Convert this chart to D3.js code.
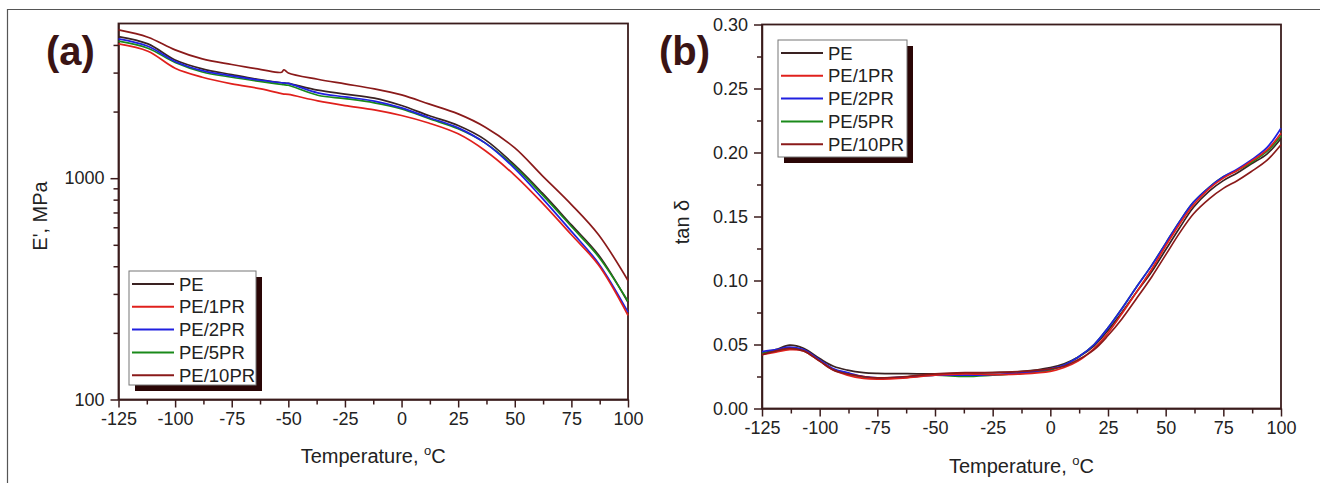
<!DOCTYPE html>
<html>
<head>
<meta charset="utf-8">
<script src="https://cdn.jsdelivr.net/npm/d3@7"></script>
<style>
  body { margin: 0; background: #fff; }
  svg { display: block; font-family: "Liberation Sans", Arial, sans-serif; }
</style>
</head>
<body>
<svg id="chart" width="1320" height="483"></svg>
<script>
const SERIES = ["PE", "PE/1PR", "PE/2PR", "PE/5PR", "PE/10PR"];
const COLORS = ["#3a2222", "#e0201c", "#2020e0", "#1a8a1a", "#8a1a1a"];

// (a) storage modulus, MPa
const tempsA = [-125, -112, -100, -88, -75, -62, -53, -52, -50, -37, -25, -12, 0, 12, 25, 37, 50, 62, 75, 87, 100];
const modPE    = [4365, 4045, 3420, 3118, 2939, 2780, 2700, 2695, 2680, 2500, 2400, 2300, 2129, 1919, 1729, 1490, 1145, 860, 615, 450, 275];
const mod1PR   = [4045, 3747, 3140, 2859, 2668, 2533, 2410, 2400, 2390, 2235, 2129, 2035, 1919, 1775, 1586, 1330, 1030, 775, 555, 405, 240];
const mod2PR   = [4262, 3948, 3370, 3060, 2899, 2770, 2700, 2695, 2680, 2430, 2330, 2230, 2078, 1880, 1688, 1440, 1105, 815, 575, 412, 248];
const mod5PR   = [4159, 3866, 3330, 3020, 2859, 2730, 2650, 2645, 2630, 2370, 2290, 2190, 2056, 1860, 1671, 1440, 1125, 845, 605, 442, 278];
const mod10PR  = [4677, 4335, 3800, 3459, 3263, 3097, 3010, 3090, 2990, 2800, 2668, 2533, 2378, 2166, 1953, 1700, 1370, 1030, 760, 555, 345];

// (b) tan delta
const tempsB = [-125, -119, -113, -107, -100, -94, -88, -81, -75, -62, -50, -37, -25, -12, 0, 6, 12, 19, 25, 31, 37, 44, 50, 56, 62, 69, 75, 81, 87, 94, 100];
const tanPE   = [0.043, 0.046, 0.0495, 0.047, 0.039, 0.033, 0.030, 0.028, 0.0274, 0.0272, 0.027, 0.0275, 0.028, 0.029, 0.032, 0.035, 0.040, 0.049, 0.061, 0.075, 0.090, 0.107, 0.124, 0.141, 0.157, 0.170, 0.178, 0.184, 0.191, 0.199, 0.211];
const tan1PR  = [0.042, 0.044, 0.046, 0.045, 0.037, 0.030, 0.026, 0.0235, 0.023, 0.024, 0.026, 0.027, 0.0265, 0.027, 0.029, 0.032, 0.037, 0.047, 0.059, 0.074, 0.090, 0.109, 0.127, 0.144, 0.159, 0.172, 0.180, 0.186, 0.193, 0.202, 0.215];
const tan2PR  = [0.0445, 0.046, 0.048, 0.046, 0.038, 0.031, 0.028, 0.025, 0.024, 0.0245, 0.026, 0.026, 0.0265, 0.028, 0.031, 0.034, 0.040, 0.050, 0.063, 0.078, 0.094, 0.112, 0.129, 0.146, 0.161, 0.173, 0.181, 0.187, 0.194, 0.204, 0.219];
const tan5PR  = [0.043, 0.045, 0.047, 0.0455, 0.0375, 0.0305, 0.027, 0.0245, 0.0236, 0.0245, 0.026, 0.025, 0.026, 0.0275, 0.030, 0.034, 0.040, 0.050, 0.063, 0.078, 0.094, 0.112, 0.129, 0.146, 0.161, 0.173, 0.181, 0.186, 0.192, 0.201, 0.213];
const tan10PR = [0.042, 0.045, 0.047, 0.045, 0.037, 0.030, 0.027, 0.025, 0.024, 0.025, 0.027, 0.028, 0.028, 0.029, 0.031, 0.033, 0.038, 0.046, 0.057, 0.070, 0.085, 0.103, 0.120, 0.137, 0.152, 0.164, 0.172, 0.178, 0.185, 0.194, 0.206];

const xTicks = [-125, -100, -75, -50, -25, 0, 25, 50, 75, 100];
const xMinor = [-112.5, -87.5, -62.5, -37.5, -12.5, 12.5, 37.5, 62.5, 87.5];
const yTicksA = [100, 1000];
const yMinorA = [200, 300, 400, 500, 600, 700, 800, 900, 2000, 3000, 4000];
const yTicksB = [0, 0.05, 0.10, 0.15, 0.20, 0.25, 0.30];
const yMinorB = [0.025, 0.075, 0.125, 0.175, 0.225, 0.275];

const AXIS = "#3b1c1c";
const svg = d3.select("#chart");

// outer frame
svg.append("path").attr("d", "M7.5,483 V9.5 H1320")
  .attr("fill", "none").attr("stroke", "#555").attr("stroke-width", 1.2);

function drawPanel(o) {
  const g = svg.append("g");
  const x = d3.scaleLinear().domain([-125, 100]).range([o.left, o.right]);
  const y = o.y;

  // minor ticks
  g.append("g").attr("transform", `translate(0,${o.bottom})`)
    .call(d3.axisBottom(x).tickValues(xMinor).tickSize(5).tickFormat(""))
    .call(a => a.select(".domain").remove());
  g.append("g").attr("transform", `translate(${o.left},0)`)
    .call(d3.axisLeft(y).tickValues(o.yMinor).tickSize(5).tickFormat(""))
    .call(a => a.select(".domain").remove());

  // major ticks
  g.append("g").attr("transform", `translate(0,${o.bottom})`)
    .call(d3.axisBottom(x).tickValues(xTicks).tickSize(8).tickSizeOuter(0).tickPadding(5).tickFormat(d => String(d)))
    .call(a => a.selectAll("text").style("font-size", "18px").attr("fill", "#222"));
  g.append("g").attr("transform", `translate(${o.left},0)`)
    .call(d3.axisLeft(y).tickValues(o.yTicks).tickSize(8).tickSizeOuter(0).tickPadding(6).tickFormat(o.fmt))
    .call(a => a.selectAll("text").style("font-size", "18px").attr("fill", "#222"));
  g.selectAll(".tick line, .domain").attr("stroke", AXIS).attr("stroke-width", 1.5);

  // frame
  g.append("rect")
    .attr("x", o.left).attr("y", o.top)
    .attr("width", o.right - o.left).attr("height", o.bottom - o.top)
    .attr("fill", "none").attr("stroke", AXIS).attr("stroke-width", 1.8);

  // curves
  const line = d3.line()
    .x(d => x(d[0])).y(d => y(d[1]))
    .curve(d3.curveCatmullRom.alpha(0.5));
  const order = [0, 3, 2, 1, 4];
  order.forEach(i => {
    const pts = o.temps.map((t, k) => [t, o.values[i][k]]);
    g.append("path").datum(pts)
      .attr("d", line)
      .attr("fill", "none")
      .attr("stroke", COLORS[i])
      .attr("stroke-width", 1.7);
  });

  // legend
  const L = o.legend;
  g.append("rect").attr("x", L.x + 6).attr("y", L.y + 6).attr("width", L.w).attr("height", L.h)
    .attr("fill", "#2a0606");
  g.append("rect").attr("x", L.x).attr("y", L.y).attr("width", L.w).attr("height", L.h)
    .attr("fill", "#fff").attr("stroke", "#777").attr("stroke-width", 1);
  SERIES.forEach((s, i) => {
    const yy = L.y + 13 + i * 22.8;
    g.append("line").attr("x1", L.x + 3).attr("x2", L.x + 45)
      .attr("y1", yy).attr("y2", yy)
      .attr("stroke", COLORS[i]).attr("stroke-width", 2);
    g.append("text").attr("x", L.x + 50).attr("y", yy + 6.5)
      .attr("fill", "#222").style("font-size", "18.5px").text(s);
  });

  // panel letter
  g.append("text").attr("x", o.letterX).attr("y", 65)
    .attr("fill", "#3a1414").style("font-size", "40px").style("font-weight", "bold")
    .text(o.letter);

  // axis titles
  const xt = g.append("text")
    .attr("x", (o.left + o.right) / 2).attr("y", o.xTitleY)
    .attr("text-anchor", "middle").attr("fill", "#222").style("font-size", "20px");
  xt.append("tspan").text("Temperature, ");
  xt.append("tspan").attr("dy", -8).style("font-size", "13px").text("o");
  xt.append("tspan").attr("dy", 8).text("C");

  g.append("text")
    .attr("transform", `translate(${o.yTitleX},${o.yTitleY}) rotate(-90)`)
    .attr("text-anchor", "middle").attr("fill", "#222").style("font-size", "20px")
    .text(o.yTitle);
}

drawPanel({
  left: 118.5, right: 628, top: 23.5, bottom: 399.5,
  y: d3.scaleLog().domain([100, 5000]).range([399.5, 23.5]),
  yTicks: yTicksA, yMinor: yMinorA, fmt: d => String(d),
  temps: tempsA, values: [modPE, mod1PR, mod2PR, mod5PR, mod10PR],
  legend: { x: 129, y: 271, w: 127, h: 114 },
  letter: "(a)", letterX: 46,
  xTitleY: 463, yTitleX: 47, yTitleY: 216, yTitle: "E', MPa"
});

drawPanel({
  left: 762, right: 1281, top: 24.5, bottom: 408.5,
  y: d3.scaleLinear().domain([0, 0.30]).range([408.5, 24.5]),
  yTicks: yTicksB, yMinor: yMinorB, fmt: d3.format(".2f"),
  temps: tempsB, values: [tanPE, tan1PR, tan2PR, tan5PR, tan10PR],
  legend: { x: 778, y: 40, w: 129, h: 117 },
  letter: "(b)", letterX: 659,
  xTitleY: 473, yTitleX: 689, yTitleY: 222, yTitle: "tan δ"
});
</script>
</body>
</html>
